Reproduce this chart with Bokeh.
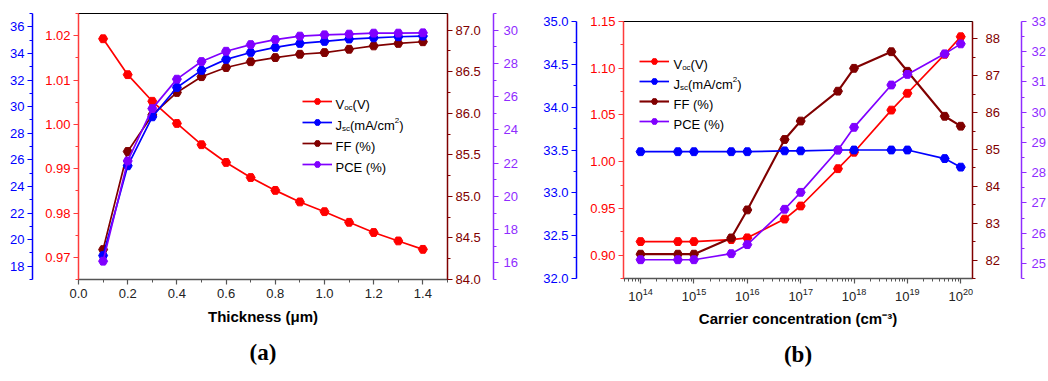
from bokeh.plotting import figure
from bokeh.models import (Range1d, LinearAxis, FixedTicker, Legend, LegendItem,
                          Label, Title, PrintfTickFormatter, LogTickFormatter)
from bokeh.layouts import row, column
from bokeh.embed import file_html
from bokeh.resources import INLINE

# ---------------- data: panel (a) ----------------
thickness = [0.1, 0.2, 0.3, 0.4, 0.5, 0.6, 0.7, 0.8, 0.9, 1.0, 1.1, 1.2, 1.3, 1.4]
voc_a = [1.0193, 1.0112, 1.0052, 1.0002, 0.9954, 0.9914, 0.9880, 0.9851, 0.9825,
         0.9803, 0.9779, 0.9756, 0.9737, 0.9718]
jsc_a = [18.8, 25.55, 29.23, 31.44, 32.72, 33.55, 34.07, 34.45, 34.75, 34.90,
         35.08, 35.17, 35.25, 35.30]
ff_a = [84.36, 85.54, 85.98, 86.25, 86.44, 86.55, 86.62, 86.67, 86.71, 86.73,
        86.77, 86.81, 86.84, 86.86]
pce_a = [16.1, 22.13, 25.28, 27.05, 28.11, 28.73, 29.13, 29.43, 29.64, 29.72,
         29.76, 29.82, 29.82, 29.84]

# ---------------- data: panel (b) ----------------
concentration = [1e14, 5e14, 1e15, 5e15, 1e16, 5e16, 1e17, 5e17, 1e18, 5e18, 1e19, 5e19, 1e20]
voc_b = [0.9145, 0.9145, 0.9145, 0.9166, 0.9185, 0.9386, 0.9526, 0.9925, 1.0101,
         1.0552, 1.0732, 1.1149, 1.1337]
jsc_b = [33.48, 33.48, 33.48, 33.48, 33.48, 33.49, 33.49, 33.50, 33.50, 33.50,
         33.50, 33.40, 33.30]
ff_b = [82.16, 82.16, 82.16, 82.60, 83.36, 85.27, 85.77, 86.58, 87.20, 87.65,
        87.12, 85.90, 85.63]
pce_b = [25.12, 25.12, 25.12, 25.32, 25.62, 26.79, 27.35, 28.75, 29.50, 30.90,
         31.25, 31.93, 32.26]

# ---------------- tick labels ----------------
xa_ticks = [0.0, 0.2, 0.4, 0.6, 0.8, 1.0, 1.2, 1.4]
voc_a_ticks = [0.97, 0.98, 0.99, 1.00, 1.01, 1.02]
jsc_a_ticks = [18, 20, 22, 24, 26, 28, 30, 32, 34, 36]
ff_a_ticks = [84.0, 84.5, 85.0, 85.5, 86.0, 86.5, 87.0]
pce_a_ticks = [16, 18, 20, 22, 24, 26, 28, 30]

xb_ticks = [1e14, 1e15, 1e16, 1e17, 1e18, 1e19, 1e20]
voc_b_ticks = [0.90, 0.95, 1.00, 1.05, 1.10, 1.15]
jsc_b_ticks = [32.0, 32.5, 33.0, 33.5, 34.0, 34.5, 35.0]
ff_b_ticks = [82, 83, 84, 85, 86, 87, 88]
pce_b_ticks = [25, 26, 27, 28, 29, 30, 31, 32, 33]

RED = "#ff0000"
BLUE = "#0000ff"
BROWN = "#800000"
PURPLE = "#8000ff"
FONT = "Liberation Sans"

CW = {'V': 667, 'J': 500, 'F': 611, 'P': 667, 'C': 722, 'E': 667, 'o': 556, 'c': 500,
      's': 500, '(': 333, ')': 333, 'm': 833, 'A': 667, '/': 278, '2': 556, ' ': 278, '%': 889}


def tw(s, size):
    return sum(CW.get(ch, 556) for ch in s) * size / 1000.0


def mids(t, lo, hi):
    step = t[1] - t[0]
    out = []
    v = t[0] - step / 2.0
    while v <= hi + 1e-9:
        if v >= lo - 1e-9:
            out.append(round(v, 6))
        v += step
    return out


def style_axis(ax, color, ticks, minor, fmt, standoff=3, pad=0, line_color=None):
    lc = line_color or color
    ax.axis_line_color = lc
    ax.axis_line_width = 1.5
    ax.major_tick_line_color = lc
    ax.minor_tick_line_color = lc
    ax.major_tick_line_width = 1.2
    ax.minor_tick_line_width = 1
    ax.major_tick_out = 5
    ax.major_tick_in = 0
    ax.minor_tick_out = 3
    ax.minor_tick_in = 0
    ax.major_label_text_color = color
    ax.major_label_text_font = FONT
    ax.major_label_text_font_size = "13px"
    ax.major_label_standoff = standoff
    ax.ticker = FixedTicker(ticks=ticks, minor_ticks=minor)
    if fmt is not None:
        ax.formatter = PrintfTickFormatter(format=fmt)
    if pad:
        ax.axis_label = " "
        ax.axis_label_text_font_size = "1px"
        ax.axis_label_standoff = pad


def legend_text(p, x_rel, yc_rel, parts):
    x = x_rel
    base = yc_rel - 2.5
    for txt, mode in parts:
        if mode == "n":
            size, y = 13, base
        elif mode == "sub":
            size, y = 8, base - 3
        else:
            size, y = 8, base + 5
        p.add_layout(Label(x=x, y=y, x_units="screen", y_units="screen", text=txt,
                           text_font=FONT, text_font_size=f"{size}px",
                           text_baseline="alphabetic", text_align="left",
                           text_color="black"))
        x += tw(txt, size)


LEG_PARTS = [
    [("V", "n"), ("oc", "sub"), ("(V)", "n")],
    [("J", "n"), ("sc", "sub"), ("(mA/cm", "n"), ("2", "sup"), (")", "n")],
    [("FF (%)", "n")],
    [("PCE (%)", "n")],
]


def build(p, x, voc, jsc, ff, pce, legend_cfg, lw):
    specs = [(voc, RED, "default"), (jsc, BLUE, "jsc"), (ff, BROWN, "ff"), (pce, PURPLE, "pce")]
    order = [0, 2, 1, 3]
    made = {}
    for i in order:
        y, c, rn = specs[i]
        l = p.line(x, y, line_color=c, line_width=lw[i], y_range_name=rn)
        s = p.scatter(x, y, marker="hex", size=9, fill_color=c, line_color=c, y_range_name=rn)
        made[i] = (l, s)
    items = [LegendItem(label=" ", renderers=[made[i][0], made[i][1]]) for i in range(4)]
    gx, vy, spacing, tx, centers = legend_cfg
    leg = Legend(items=items, location=(gx, vy), glyph_width=30, glyph_height=16,
                 label_height=16, label_width=1, label_text_font_size="8px",
                 spacing=spacing, padding=0, margin=0, border_line_alpha=0,
                 background_fill_alpha=0, label_standoff=0)
    p.add_layout(leg)
    for k in range(4):
        legend_text(p, tx, centers[k], LEG_PARTS[k])


# ================= panel (a) =================
pa = figure(width=520, height=381, output_backend="svg", toolbar_location=None,
            x_range=Range1d(0.0, 1.5), y_range=Range1d(0.965, 1.025),
            min_border_left=78, min_border_right=68, min_border_top=13,
            min_border_bottom=102)
pa.extra_y_ranges = {"jsc": Range1d(17, 37), "ff": Range1d(84.0, 87.2), "pce": Range1d(15, 31)}
pa.xgrid.visible = False
pa.ygrid.visible = False
pa.outline_line_color = "black"
pa.outline_line_width = 1
pa.background_fill_color = "white"
pa.border_fill_color = "white"

style_axis(pa.yaxis[0], RED, voc_a_ticks, mids(voc_a_ticks, 0.965, 1.025), "%.2f",
           standoff=3, pad=6, line_color="#ff3b3b")
ax_j = LinearAxis(y_range_name="jsc")
style_axis(ax_j, BLUE, jsc_a_ticks, mids(jsc_a_ticks, 17, 37), "%d", standoff=3)
pa.add_layout(ax_j, "left")
ax_f = LinearAxis(y_range_name="ff")
style_axis(ax_f, BROWN, ff_a_ticks, mids(ff_a_ticks, 84.0, 87.2), "%.1f", standoff=3, pad=6)
pa.add_layout(ax_f, "right")
ax_p = LinearAxis(y_range_name="pce")
style_axis(ax_p, "#8f2cff", pce_a_ticks, mids(pce_a_ticks, 15, 31), "%d", standoff=5)
pa.add_layout(ax_p, "right")

xa = pa.xaxis[0]
style_axis(xa, "#222222", xa_ticks, mids(xa_ticks, 0.0, 1.5), "%.1f", standoff=4,
           line_color="#555555")
xa.axis_label = "Thickness (μm)"
xa.axis_label_text_font = FONT
xa.axis_label_text_font_size = "15px"
xa.axis_label_text_font_style = "bold"
xa.axis_label_text_color = "black"
xa.axis_label_standoff = 7

build(pa, thickness, voc_a, jsc_a, ff_a, pce_a,
      (224, 107, 5, 257, [279 - 101, 279 - 122, 279 - 143, 279 - 164]),
      [1.7, 1.7, 1.7, 1.7])

pa.add_layout(Title(text="(a)", align="center", text_font="Liberation Serif",
                    text_font_size="23px", text_font_style="bold",
                    text_color="black", standoff=20), "below")

# ================= panel (b) =================
pb = figure(width=528, height=381, output_backend="svg", toolbar_location=None,
            x_axis_type="log", x_range=Range1d(10 ** 13.68, 10 ** 20.22),
            y_range=Range1d(0.875, 1.15),
            min_border_left=103, min_border_right=65, min_border_top=21,
            min_border_bottom=103)
pb.extra_y_ranges = {"jsc": Range1d(32.0, 35.0), "ff": Range1d(81.5, 88.47), "pce": Range1d(24.5, 33)}
pb.xgrid.visible = False
pb.ygrid.visible = False
pb.outline_line_color = "black"
pb.outline_line_width = 1
pb.background_fill_color = "white"
pb.border_fill_color = "white"

style_axis(pb.yaxis[0], RED, voc_b_ticks, mids(voc_b_ticks, 0.875, 1.15), "%.2f",
           standoff=3, pad=7, line_color="#ff3b3b")
bx_j = LinearAxis(y_range_name="jsc")
style_axis(bx_j, BLUE, jsc_b_ticks, mids(jsc_b_ticks, 32.0, 35.0), "%.1f", standoff=3)
pb.add_layout(bx_j, "left")
bx_f = LinearAxis(y_range_name="ff")
style_axis(bx_f, BROWN, ff_b_ticks, mids(ff_b_ticks, 81.5, 88.47), "%d", standoff=8, pad=14)
pb.add_layout(bx_f, "right")
bx_p = LinearAxis(y_range_name="pce")
style_axis(bx_p, "#8f2cff", pce_b_ticks, mids(pce_b_ticks, 24.5, 33), "%d", standoff=5)
pb.add_layout(bx_p, "right")

xb_minor = [m * 10.0 ** e for e in range(13, 21) for m in range(2, 10)
            if 10 ** 13.68 <= m * 10.0 ** e <= 10 ** 20.22]
xb = pb.xaxis[0]
style_axis(xb, "#222222", xb_ticks, xb_minor, None, standoff=4, line_color="#555555")
xb.formatter = LogTickFormatter()
xb.axis_label = "Carrier concentration (cm⁻³)"
xb.axis_label_text_font = FONT
xb.axis_label_text_font_size = "15px"
xb.axis_label_text_font_style = "bold"
xb.axis_label_text_color = "black"
xb.axis_label_standoff = 6

build(pb, concentration, voc_b, jsc_b, ff_b, pce_b,
      (16, 149, 4, 50, [278 - 61, 278 - 81, 278 - 101, 278 - 121]),
      [1.7, 1.7, 2.1, 1.7])

pb.add_layout(Title(text="(b)", align="center", text_font="Liberation Serif",
                    text_font_size="23px", text_font_style="bold",
                    text_color="black", standoff=20, offset=-9), "below")

layout = row(column(pa), column(pb))
open("out.html", "w").write(file_html(layout, INLINE))
